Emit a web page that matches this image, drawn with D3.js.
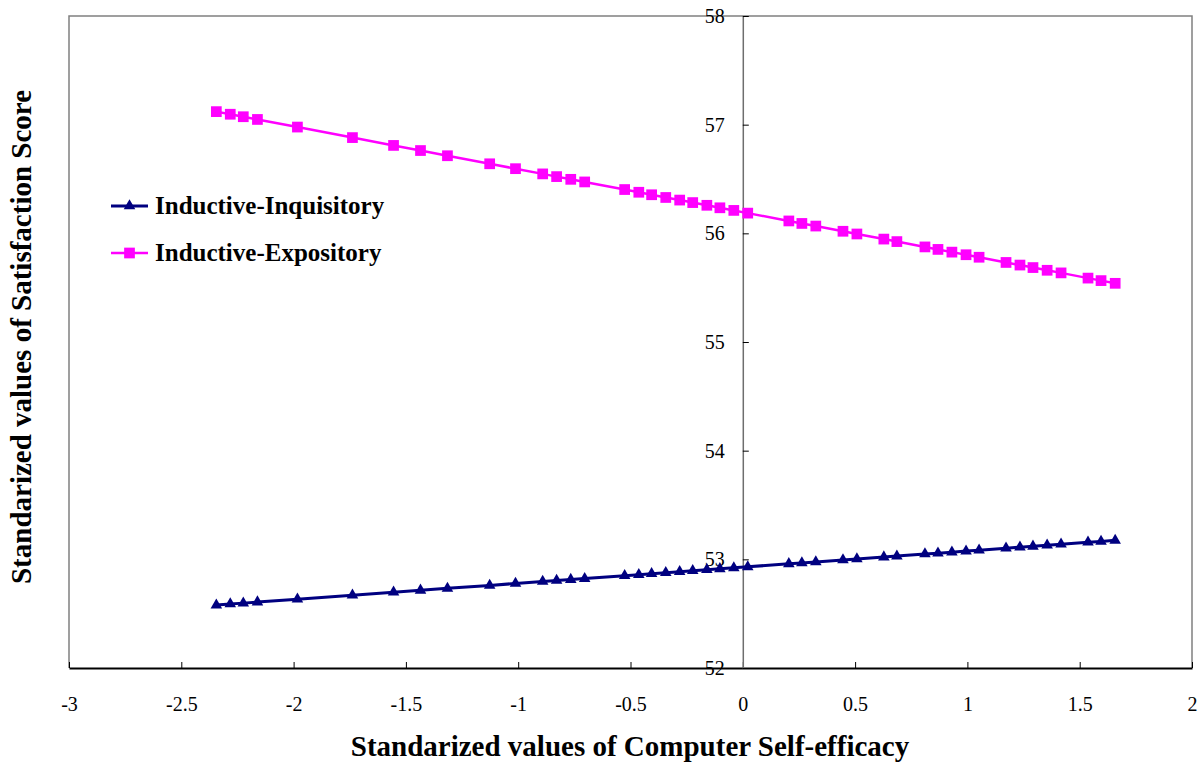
<!DOCTYPE html>
<html>
<head>
<meta charset="utf-8">
<script src="https://cdn.jsdelivr.net/npm/d3@7"></script>
<style>
  body { margin: 0; background: #fff; }
  svg text { font-family: "Liberation Serif", "Times New Roman", serif; }
</style>
</head>
<body>
<svg id="chart" width="1203" height="762"></svg>
<script>
// standardized computer self-efficacy (x)
const efficacy = [-2.344, -2.282, -2.224, -2.161, -1.983, -1.738, -1.555, -1.435, -1.315, -1.127,
  -1.012, -0.891, -0.829, -0.766, -0.704, -0.526, -0.463, -0.406, -0.343, -0.281,
  -0.223, -0.160, -0.102, -0.040, 0.022, 0.205, 0.263, 0.325, 0.446, 0.508,
  0.628, 0.686, 0.811, 0.869, 0.931, 0.994, 1.052, 1.172, 1.234, 1.292,
  1.355, 1.417, 1.537, 1.595, 1.658]

const inquisitory = [52.579, 52.589, 52.597, 52.607, 52.633, 52.670, 52.697, 52.715, 52.733, 52.760,
  52.778, 52.796, 52.805, 52.814, 52.823, 52.850, 52.859, 52.868, 52.877, 52.886,
  52.895, 52.904, 52.913, 52.922, 52.931, 52.959, 52.967, 52.976, 52.994, 53.004,
  53.021, 53.030, 53.049, 53.057, 53.066, 53.076, 53.084, 53.102, 53.112, 53.120,
  53.130, 53.139, 53.157, 53.165, 53.175]

const expository = [57.120, 57.096, 57.073, 57.048, 56.978, 56.881, 56.809, 56.762, 56.714, 56.640,
  56.595, 56.547, 56.522, 56.497, 56.473, 56.403, 56.378, 56.355, 56.330, 56.306,
  56.283, 56.258, 56.235, 56.211, 56.186, 56.114, 56.091, 56.067, 56.019, 55.994,
  55.947, 55.924, 55.875, 55.852, 55.827, 55.803, 55.780, 55.732, 55.708, 55.685,
  55.660, 55.636, 55.588, 55.565, 55.540]

const seriesNames = ["Inductive-Inquisitory", "Inductive-Expository"]
const xTicks = [-3, -2.5, -2, -1.5, -1, -0.5, 0, 0.5, 1, 1.5, 2]
const yTicks = [52, 53, 54, 55, 56, 57, 58]

const plotLeft = 69, plotRight = 1192, plotTop = 16, plotBottom = 668
const serif = "'Liberation Serif', 'Times New Roman', serif"

const svg = d3.select("#chart")

const x = d3.scaleLinear().domain([-3, 2]).range([plotLeft, plotRight])
const y = d3.scaleLinear().domain([52, 58]).range([plotBottom, plotTop])

// plain hyphen minus like the original, no trailing zeros
const plainFormat = d => String(d)

// plot area frame (grey)
svg.append("path")
  .attr("d", `M${plotLeft},${plotBottom}V${plotTop}H${plotRight}V${plotBottom}`)
  .attr("fill", "none")
  .attr("stroke", "#808080")
  .attr("stroke-width", 1.5)

// x axis, ticks pointing up
const xAxis = svg.append("g")
  .attr("transform", `translate(0,${plotBottom})`)
  .call(d3.axisTop(x).tickValues(xTicks).tickSize(6).tickSizeOuter(0).tickFormat(plainFormat))
  .attr("font-family", serif)
  .attr("font-size", 20)
xAxis.select(".domain").attr("stroke", "#000").attr("stroke-width", 2)
xAxis.selectAll(".tick line").attr("stroke", "#000")
xAxis.selectAll(".tick text")
  .attr("y", 43)
  .attr("dy", null)
  .attr("fill", "#000")

// y axis crossing at x = 0, ticks pointing right
const yAxis = svg.append("g")
  .attr("transform", `translate(${x(0)},0)`)
  .call(d3.axisRight(y).tickValues(yTicks).tickSize(6).tickSizeOuter(0).tickFormat(plainFormat))
  .attr("font-family", serif)
  .attr("font-size", 20)
yAxis.select(".domain").attr("stroke", "#6e6e6e").attr("stroke-width", 1.5)
yAxis.selectAll(".tick line").attr("stroke", "#000")
yAxis.selectAll(".tick text")
  .attr("x", -18)
  .attr("text-anchor", "end")
  .attr("fill", "#000")

const line = d3.line()
  .x(d => x(d[0]))
  .y(d => y(d[1]))

const series = [
  { name: seriesNames[0], values: inquisitory, color: "#000080", width: 3, symbol: d3.symbolTriangle, size: 58 },
  { name: seriesNames[1], values: expository, color: "#FF00FF", width: 2.5, symbol: d3.symbolSquare, size: 115 }
]

series.forEach(s => {
  const pts = efficacy.map((e, i) => [e, s.values[i]])

  svg.append("path")
    .datum(pts)
    .attr("d", line)
    .attr("fill", "none")
    .attr("stroke", s.color)
    .attr("stroke-width", s.width)

  svg.append("g")
    .selectAll("path")
    .data(pts)
    .join("path")
    .attr("d", d3.symbol().type(s.symbol).size(s.size))
    .attr("transform", d => `translate(${x(d[0])},${y(d[1])})`)
    .attr("fill", s.color)
})

// legend
const legend = svg.append("g").attr("transform", "translate(111,0)")
const legendY = [206, 253]
series.forEach((s, i) => {
  const g = legend.append("g").attr("transform", `translate(0,${legendY[i]})`)
  g.append("line")
    .attr("x1", 0).attr("x2", 37)
    .attr("stroke", s.color)
    .attr("stroke-width", s.width)
  g.append("path")
    .attr("d", d3.symbol().type(s.symbol).size(s.size)())
    .attr("transform", "translate(18.5,0)")
    .attr("fill", s.color)
  g.append("text")
    .attr("x", 44)
    .attr("y", 8)
    .style("font-size", "25px")
    .style("font-weight", "bold")
    .text(s.name)
})

// axis titles
svg.append("text")
  .attr("x", 630)
  .attr("y", 756)
  .attr("text-anchor", "middle")
  .style("font-size", "29px")
  .style("font-weight", "bold")
  .text("Standarized values of Computer Self-efficacy")

svg.append("text")
  .attr("transform", "translate(31,337) rotate(-90)")
  .attr("text-anchor", "middle")
  .style("font-size", "29px")
  .style("font-weight", "bold")
  .text("Standarized values of Satisfaction Score")
</script>
</body>
</html>
